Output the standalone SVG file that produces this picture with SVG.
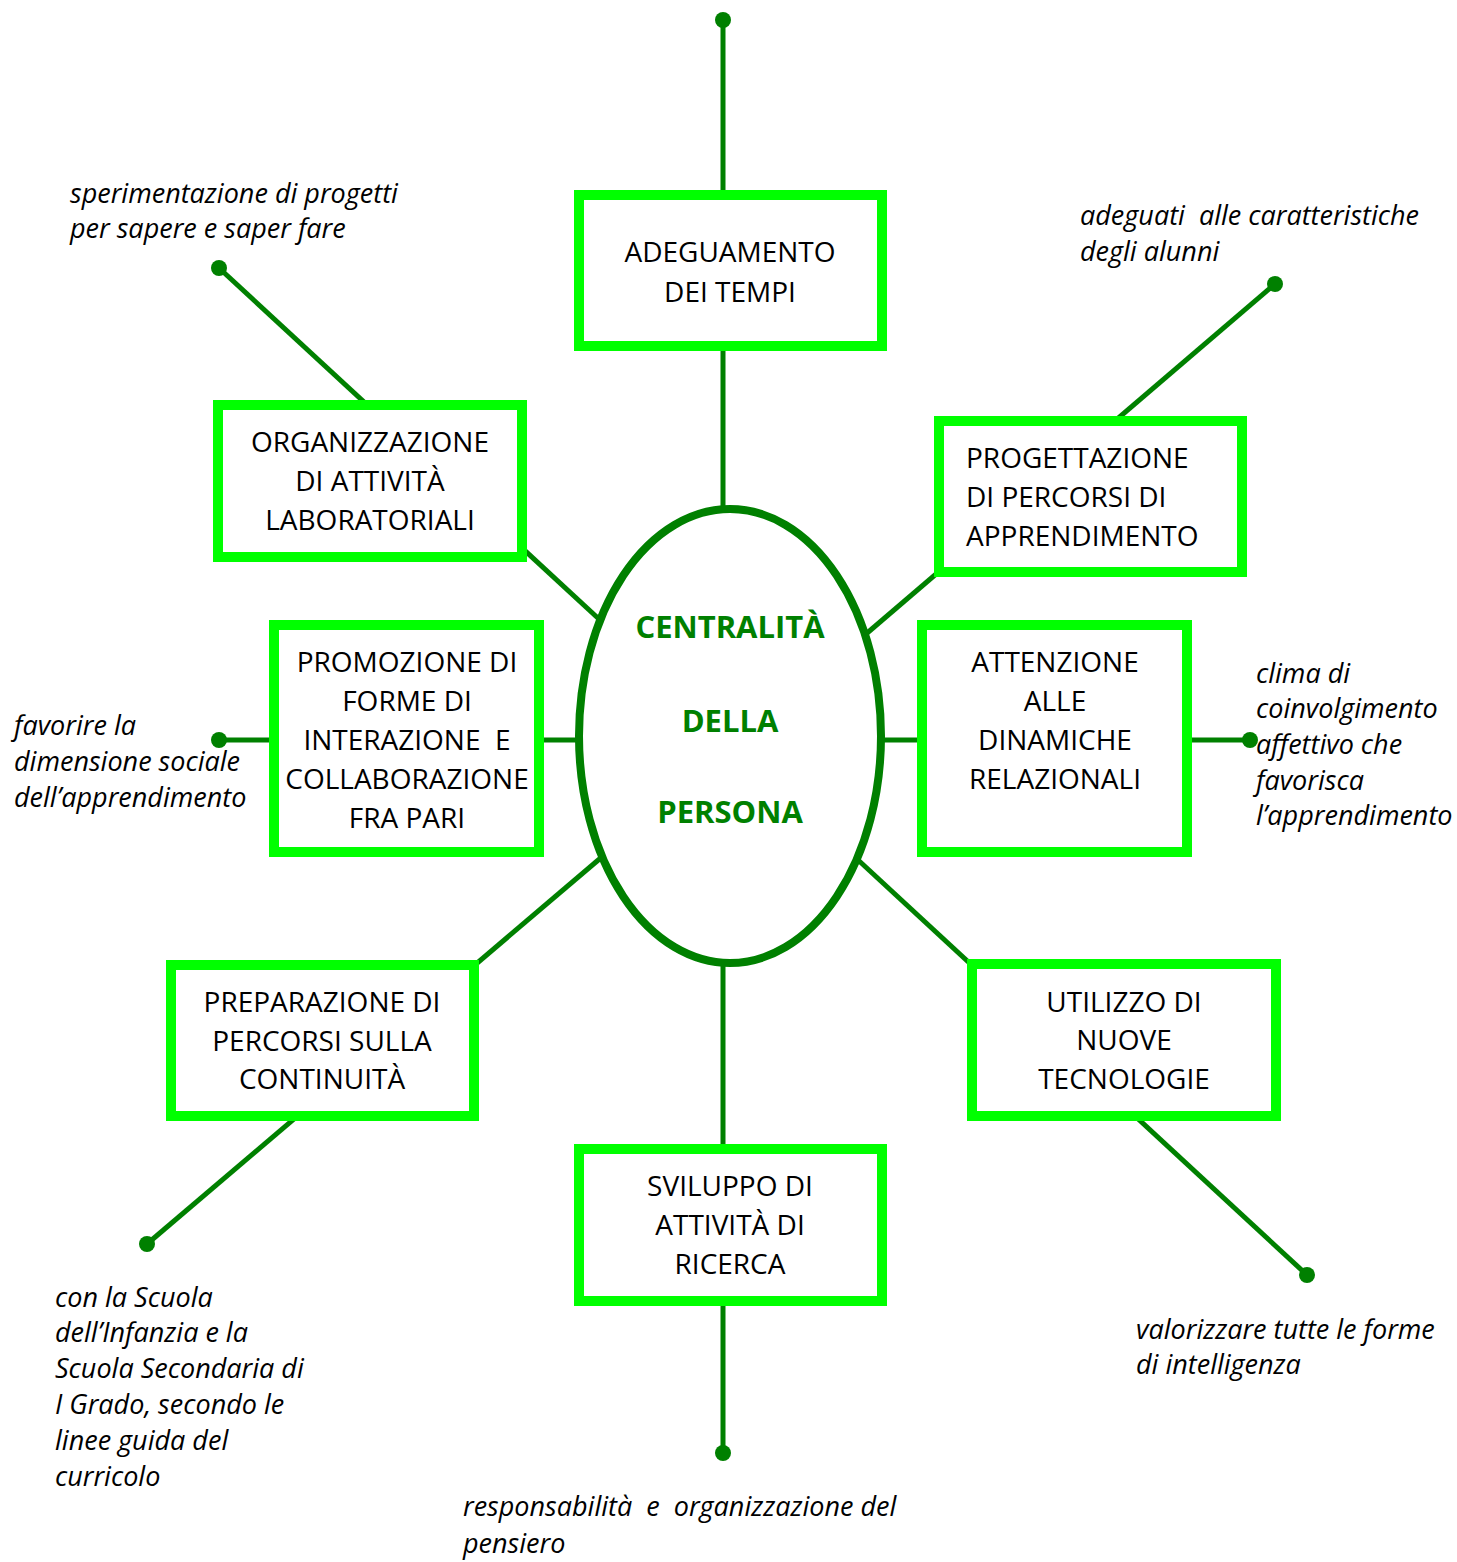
<svg xmlns="http://www.w3.org/2000/svg" width="1457" height="1562" viewBox="0 0 1457 1562">
<style>
.ln{stroke:#008000;stroke-width:5;fill:none}
.dot{fill:#008000}
.box{fill:#fff;stroke:#00ff00;stroke-width:10}
.bt{font-family:"Open Sans","Noto Sans","Liberation Sans",sans-serif;font-size:28px;fill:#000;text-anchor:middle;white-space:pre}
.bl{text-anchor:start}
.ct{font-family:"Open Sans","Noto Sans","Liberation Sans",sans-serif;font-size:31px;font-weight:bold;fill:#008000;text-anchor:middle}
.an{font-family:"Open Sans","Noto Sans","Liberation Sans",sans-serif;font-size:27px;font-style:italic;fill:#000;white-space:pre}
</style>
<rect width="1457" height="1562" fill="#fff"/>
<g id="connectors">
<line class="ln" x1="723" y1="20" x2="723" y2="510"/>
<line class="ln" x1="723" y1="962" x2="723" y2="1453"/>
<line class="ln" x1="219" y1="268" x2="600" y2="620"/>
<line class="ln" x1="1275" y1="284" x2="866" y2="634"/>
<line class="ln" x1="219" y1="740" x2="1250" y2="740"/>
<line class="ln" x1="147" y1="1244" x2="603" y2="856"/>
<line class="ln" x1="857" y1="859" x2="1307" y2="1275"/>
<circle class="dot" cx="723" cy="20" r="8"/>
<circle class="dot" cx="219" cy="268" r="8"/>
<circle class="dot" cx="1275" cy="284" r="8"/>
<circle class="dot" cx="219" cy="740" r="8"/>
<circle class="dot" cx="1250" cy="740" r="8"/>
<circle class="dot" cx="147" cy="1244" r="8"/>
<circle class="dot" cx="1307" cy="1275" r="8"/>
<circle class="dot" cx="723" cy="1453" r="8"/>
</g>
<g id="centro">
<ellipse cx="730" cy="736" rx="151" ry="227" fill="#fff" stroke="#008000" stroke-width="8"/>
<text class="ct" x="730" y="638">CENTRALITÀ</text>
<text class="ct" x="730" y="732">DELLA</text>
<text class="ct" x="730" y="823">PERSONA</text>
</g>
<g id="adeguamento">
<rect class="box" x="579" y="195" width="303" height="151"/>
<text class="bt" x="730" y="262">ADEGUAMENTO</text>
<text class="bt" x="730" y="302">DEI TEMPI</text>
</g>
<g id="organizzazione">
<rect class="box" x="218" y="405" width="304" height="152"/>
<text class="bt" x="370" y="452">ORGANIZZAZIONE</text>
<text class="bt" x="370" y="491">DI ATTIVITÀ</text>
<text class="bt" x="370" y="530">LABORATORIALI</text>
</g>
<g id="progettazione">
<rect class="box" x="939" y="421" width="303" height="151"/>
<text class="bt bl" x="966" y="468">PROGETTAZIONE</text>
<text class="bt bl" x="966" y="507">DI PERCORSI DI</text>
<text class="bt bl" x="966" y="546">APPRENDIMENTO</text>
</g>
<g id="promozione">
<rect class="box" x="274" y="625" width="265" height="227"/>
<text class="bt" x="407" y="672">PROMOZIONE DI</text>
<text class="bt" x="407" y="711">FORME DI</text>
<text class="bt" x="407" y="750">INTERAZIONE  E</text>
<text class="bt" x="407" y="789">COLLABORAZIONE</text>
<text class="bt" x="407" y="828">FRA PARI</text>
</g>
<g id="attenzione">
<rect class="box" x="922" y="625" width="265" height="227"/>
<text class="bt" x="1055" y="672">ATTENZIONE</text>
<text class="bt" x="1055" y="711">ALLE</text>
<text class="bt" x="1055" y="750">DINAMICHE</text>
<text class="bt" x="1055" y="789">RELAZIONALI</text>
</g>
<g id="preparazione">
<rect class="box" x="171" y="965" width="303" height="151"/>
<text class="bt" x="322" y="1012">PREPARAZIONE DI</text>
<text class="bt" x="322" y="1051">PERCORSI SULLA</text>
<text class="bt" x="322" y="1089">CONTINUITÀ</text>
</g>
<g id="utilizzo">
<rect class="box" x="972" y="964" width="304" height="152"/>
<text class="bt" x="1124" y="1012">UTILIZZO DI</text>
<text class="bt" x="1124" y="1050">NUOVE</text>
<text class="bt" x="1124" y="1089">TECNOLOGIE</text>
</g>
<g id="sviluppo">
<rect class="box" x="579" y="1149" width="303" height="152"/>
<text class="bt" x="730" y="1196">SVILUPPO DI</text>
<text class="bt" x="730" y="1235">ATTIVITÀ DI</text>
<text class="bt" x="730" y="1274">RICERCA</text>
</g>
<g id="annotazioni">
<text class="an" x="70" y="203">sperimentazione di progetti</text>
<text class="an" x="70" y="238">per sapere e saper fare</text>
<text class="an" x="1080" y="225">adeguati  alle caratteristiche</text>
<text class="an" x="1080" y="261">degli alunni</text>
<text class="an" x="14" y="735">favorire la</text>
<text class="an" x="14" y="771">dimensione sociale</text>
<text class="an" x="14" y="807">dell’apprendimento</text>
<text class="an" x="1256" y="683">clima di</text>
<text class="an" x="1256" y="718">coinvolgimento</text>
<text class="an" x="1256" y="754">affettivo che</text>
<text class="an" x="1256" y="790">favorisca</text>
<text class="an" x="1256" y="825">l’apprendimento</text>
<text class="an" x="55" y="1307">con la Scuola</text>
<text class="an" x="55" y="1342">dell’Infanzia e la</text>
<text class="an" x="55" y="1378">Scuola Secondaria di</text>
<text class="an" x="55" y="1414">I Grado, secondo le</text>
<text class="an" x="55" y="1450">linee guida del</text>
<text class="an" x="55" y="1486">curricolo</text>
<text class="an" x="1136" y="1339">valorizzare tutte le forme</text>
<text class="an" x="1136" y="1374">di intelligenza</text>
<text class="an" x="463" y="1516">responsabilità  e  organizzazione del</text>
<text class="an" x="463" y="1553">pensiero</text>
</g>
</svg>
